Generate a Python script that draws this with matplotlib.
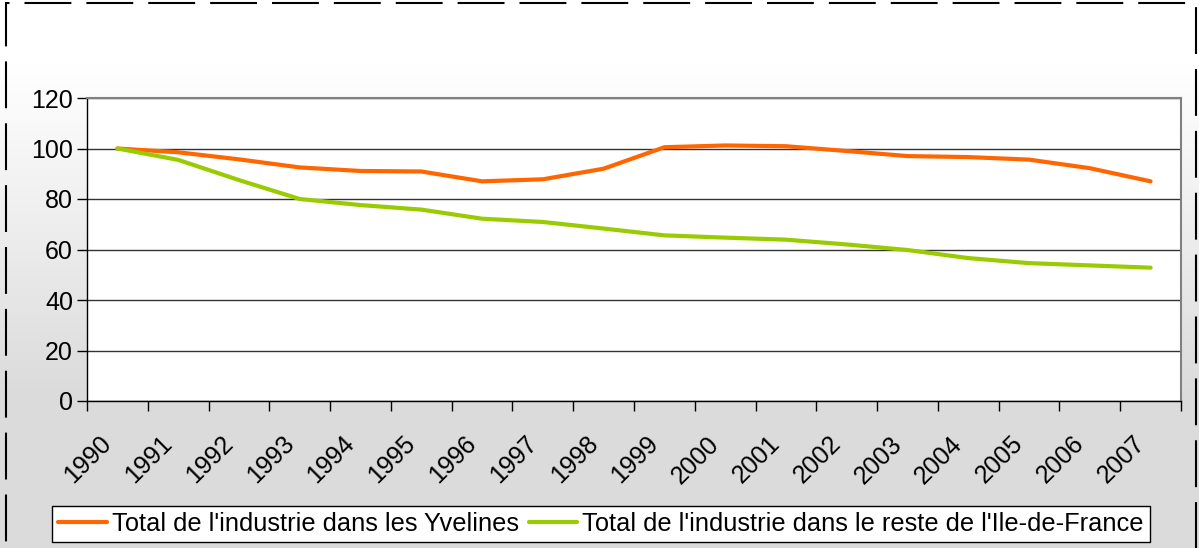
import numpy as np
import matplotlib
matplotlib.use("Agg")
import matplotlib.pyplot as plt
from matplotlib.patches import Rectangle
from matplotlib.transforms import ScaledTranslation

years = ["1990", "1991", "1992", "1993", "1994", "1995", "1996", "1997", "1998",
         "1999", "2000", "2001", "2002", "2003", "2004", "2005", "2006", "2007"]
yvelines = [100, 98.5, 95.7, 92.5, 91.1, 90.9, 87.0, 87.8, 92.0,
            100.5, 101.2, 100.9, 99.0, 97.0, 96.6, 95.6, 92.2, 87.0]
reste_idf = [100, 95.5, 87.5, 80.0, 77.6, 75.8, 72.2, 70.9, 68.3,
             65.6, 64.7, 63.9, 62.0, 59.8, 56.6, 54.6, 53.7, 52.8]
label_yv = "Total de l'industrie dans les Yvelines"
label_idf = "Total de l'industrie dans le reste de l'Ile-de-France"
yticks = [0, 20, 40, 60, 80, 100, 120]

plt.rcParams['font.family'] = ['Liberation Sans', 'DejaVu Sans']
W, H = 1199, 548
fig = plt.figure(figsize=(W / 100, H / 100), dpi=100)

# gradient background
bg = fig.add_axes([0, 0, 1, 1], zorder=-10)
grad = np.linspace(0, 1, 256)
top, bottom = 1.0, 0.86
vals = top - (top - bottom) * np.clip((grad - 0.12) / 0.6, 0, 1)
img = np.repeat(vals[:, None], 2, axis=1)
bg.imshow(np.dstack([img, img, img]), aspect='auto', extent=[0, 1, 0, 1], origin='upper')
bg.set_xlim(0, 1); bg.set_ylim(0, 1)
bg.axis('off')
# dashed border (bottom edge lies outside the image)
bg.add_patch(Rectangle((6 / W, -10 / H), (1196 - 6) / W, (H + 10 - 3) / H, fill=False,
                       edgecolor='black', lw=1.5, linestyle=(0, (22.5, 7.2)),
                       transform=bg.transAxes, clip_on=False))

x0, x1 = 87, 1181
y0, y1 = 401, 98
ax = fig.add_axes([x0 / W, 1 - y0 / H, (x1 - x0) / W, (y0 - y1) / H])
ax.set_facecolor('white')
n = len(years)
xs = np.arange(n)
ax.plot(xs, yvelines, color='#ff6600', lw=3, label=label_yv, solid_capstyle='round')
ax.plot(xs, reste_idf, color='#99cc00', lw=3, label=label_idf, solid_capstyle='round')
ax.set_xlim(-0.5, n - 0.5)
ax.set_ylim(0, 120)
ax.set_yticks(yticks)
ax.set_yticklabels([str(v) for v in yticks], fontsize=18)
ax.yaxis.grid(True, color='#333333', lw=1)
ax.set_axisbelow(True)
ax.set_xticks(np.arange(n + 1) - 0.5)
ax.set_xticklabels([])
ax.set_xticks(xs, minor=True)
ax.set_xticklabels(years, minor=True, rotation=45, ha='right', va='top',
                   rotation_mode='anchor', fontsize=18)
ax.tick_params(axis='x', which='minor', length=0, pad=22)
ax.tick_params(axis='x', which='major', length=7, width=1, direction='out', color='black')
ax.tick_params(axis='y', length=7, width=1, direction='out', color='black', pad=3)
off = ScaledTranslation(-0.18, 0, fig.dpi_scale_trans)
for lbl in ax.get_xticklabels(minor=True):
    lbl.set_transform(lbl.get_transform() + off)
for s in ['left', 'bottom']:
    ax.spines[s].set_color('black')
    ax.spines[s].set_linewidth(1)
for s in ['top', 'right']:
    ax.spines[s].set_color('#808080')
    ax.spines[s].set_linewidth(1.5)

leg = fig.legend(loc='center', bbox_to_anchor=(601 / W, 1 - 524 / H), ncol=2,
                 fontsize=18.3, frameon=True, fancybox=False, handlelength=1.9,
                 handletextpad=0.2, columnspacing=0.4, borderpad=0.25, borderaxespad=0)
leg.get_frame().set_edgecolor('black')
leg.get_frame().set_linewidth(1)
leg.get_frame().set_facecolor('white')
leg.get_frame().set_alpha(1)

fig.savefig('out.png', dpi=100)
